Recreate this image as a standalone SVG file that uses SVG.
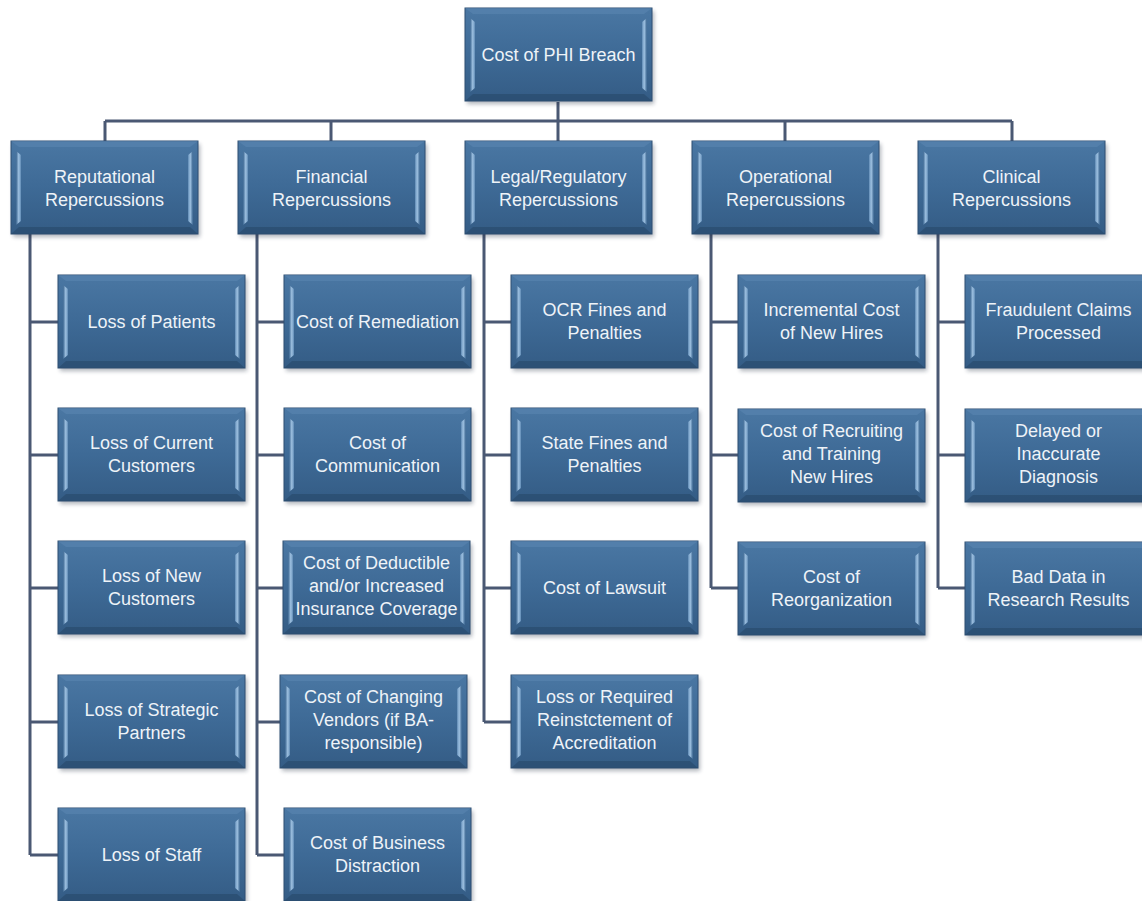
<svg xmlns="http://www.w3.org/2000/svg" xmlns:xlink="http://www.w3.org/1999/xlink" width="1142" height="901" viewBox="0 0 1142 901">
<defs>
<linearGradient id="gFill" x1="0" y1="0" x2="0" y2="1">
<stop offset="0" stop-color="#4a77a3"/>
<stop offset="0.5" stop-color="#3e6a96"/>
<stop offset="1" stop-color="#345c85"/>
</linearGradient>
<linearGradient id="gLeft" x1="0" y1="0" x2="1" y2="0">
<stop offset="0" stop-color="#3a6590"/>
<stop offset="0.55" stop-color="#9fc2e2"/>
<stop offset="1" stop-color="#5f8ab4"/>
</linearGradient>
<linearGradient id="gRight" x1="0" y1="0" x2="1" y2="0">
<stop offset="0" stop-color="#5f8ab4"/>
<stop offset="0.45" stop-color="#9fc2e2"/>
<stop offset="1" stop-color="#3a6590"/>
</linearGradient>
<filter id="sh" x="-10%" y="-10%" width="125%" height="130%">
<feGaussianBlur stdDeviation="2"/>
</filter>
<g id="box">
<rect x="2" y="3" width="187" height="93" fill="#1a2a3c" opacity="0.35" filter="url(#sh)"/>
<rect x="0" y="0" width="187" height="93" fill="url(#gFill)" stroke="#2e4f72" stroke-width="1"/>
<polygon points="0,0 187,0 179,6 8,6" fill="#5a86b1" opacity="0.6"/>
<polygon points="0,93 187,93 179,86 8,86" fill="#2a4b6e" opacity="0.7"/>
<polygon points="5,10 10,14 10,80 5,84" fill="url(#gLeft)"/>
<polygon points="182,10 177,14 177,80 182,84" fill="url(#gRight)"/>
</g>
</defs>
<style>
.ln{fill:none;stroke:#4a5873;stroke-width:3;}
text{font-family:"Liberation Sans",Arial,sans-serif;font-size:18px;fill:#eef3f8;text-anchor:middle;}
</style>
<rect width="1142" height="901" fill="#ffffff"/>
<g id="connectors">
<path class="ln" d="M558,102V121M105,121H1012M105,121V142M331,121V142M558,121V142M785,121V142M1012,121V142"/>
<path class="ln" d="M30,233V855M30,322H58M30,455H58M30,588H58M30,722H58M30,855H58"/>
<path class="ln" d="M257,233V855M257,322H284M257,455H284M257,588H284M257,722H284M257,855H284"/>
<path class="ln" d="M484,233V722M484,322H511M484,455H511M484,588H511M484,722H511"/>
<path class="ln" d="M711,233V588M711,322H738M711,455H738M711,588H738"/>
<path class="ln" d="M938,233V588M938,322H965M938,455H965M938,588H965"/>
</g>
<g id="n-root"><use xlink:href="#box" href="#box" x="465" y="8"/><text x="558.5" y="61">Cost of PHI Breach</text></g>
<g id="n-rep"><use xlink:href="#box" href="#box" x="11" y="141"/><text x="104.5" y="183">Reputational</text><text x="104.5" y="206">Repercussions</text></g>
<g id="n-fin"><use xlink:href="#box" href="#box" x="238" y="141"/><text x="331.5" y="183">Financial</text><text x="331.5" y="206">Repercussions</text></g>
<g id="n-leg"><use xlink:href="#box" href="#box" x="465" y="141"/><text x="558.5" y="183">Legal/Regulatory</text><text x="558.5" y="206">Repercussions</text></g>
<g id="n-op"><use xlink:href="#box" href="#box" x="692" y="141"/><text x="785.5" y="183">Operational</text><text x="785.5" y="206">Repercussions</text></g>
<g id="n-cli"><use xlink:href="#box" href="#box" x="918" y="141"/><text x="1011.5" y="183">Clinical</text><text x="1011.5" y="206">Repercussions</text></g>

<g id="n-rep1"><use xlink:href="#box" href="#box" x="58" y="275"/><text x="151.5" y="328">Loss of Patients</text></g>
<g id="n-rep2"><use xlink:href="#box" href="#box" x="58" y="408"/><text x="151.5" y="449">Loss of Current</text><text x="151.5" y="472">Customers</text></g>
<g id="n-rep3"><use xlink:href="#box" href="#box" x="58" y="541"/><text x="151.5" y="582">Loss of New</text><text x="151.5" y="605">Customers</text></g>
<g id="n-rep4"><use xlink:href="#box" href="#box" x="58" y="675"/><text x="151.5" y="716">Loss of Strategic</text><text x="151.5" y="739">Partners</text></g>
<g id="n-rep5"><use xlink:href="#box" href="#box" x="58" y="808"/><text x="151.5" y="861">Loss of Staff</text></g>

<g id="n-fin1"><use xlink:href="#box" href="#box" x="284" y="275"/><text x="377.5" y="328">Cost of Remediation</text></g>
<g id="n-fin2"><use xlink:href="#box" href="#box" x="284" y="408"/><text x="377.5" y="449">Cost of</text><text x="377.5" y="472">Communication</text></g>
<g id="n-fin3"><use xlink:href="#box" href="#box" x="283" y="541"/><text x="376.5" y="569">Cost of Deductible</text><text x="376.5" y="592">and/or Increased</text><text x="376.5" y="615">Insurance Coverage</text></g>
<g id="n-fin4"><use xlink:href="#box" href="#box" x="280" y="675"/><text x="373.5" y="703">Cost of Changing</text><text x="373.5" y="726">Vendors (if BA-</text><text x="373.5" y="749">responsible)</text></g>
<g id="n-fin5"><use xlink:href="#box" href="#box" x="284" y="808"/><text x="377.5" y="849">Cost of Business</text><text x="377.5" y="872">Distraction</text></g>

<g id="n-leg1"><use xlink:href="#box" href="#box" x="511" y="275"/><text x="604.5" y="316">OCR Fines and</text><text x="604.5" y="339">Penalties</text></g>
<g id="n-leg2"><use xlink:href="#box" href="#box" x="511" y="408"/><text x="604.5" y="449">State Fines and</text><text x="604.5" y="472">Penalties</text></g>
<g id="n-leg3"><use xlink:href="#box" href="#box" x="511" y="541"/><text x="604.5" y="594">Cost of Lawsuit</text></g>
<g id="n-leg4"><use xlink:href="#box" href="#box" x="511" y="675"/><text x="604.5" y="703">Loss or Required</text><text x="604.5" y="726">Reinstctement of</text><text x="604.5" y="749">Accreditation</text></g>

<g id="n-op1"><use xlink:href="#box" href="#box" x="738" y="275"/><text x="831.5" y="316">Incremental Cost</text><text x="831.5" y="339">of New Hires</text></g>
<g id="n-op2"><use xlink:href="#box" href="#box" x="738" y="409"/><text x="831.5" y="437">Cost of Recruiting</text><text x="831.5" y="460">and Training</text><text x="831.5" y="483">New Hires</text></g>
<g id="n-op3"><use xlink:href="#box" href="#box" x="738" y="542"/><text x="831.5" y="583">Cost of</text><text x="831.5" y="606">Reorganization</text></g>

<g id="n-cli1"><use xlink:href="#box" href="#box" x="965" y="275"/><text x="1058.5" y="316">Fraudulent Claims</text><text x="1058.5" y="339">Processed</text></g>
<g id="n-cli2"><use xlink:href="#box" href="#box" x="965" y="409"/><text x="1058.5" y="437">Delayed or</text><text x="1058.5" y="460">Inaccurate</text><text x="1058.5" y="483">Diagnosis</text></g>
<g id="n-cli3"><use xlink:href="#box" href="#box" x="965" y="542"/><text x="1058.5" y="583">Bad Data in</text><text x="1058.5" y="606">Research Results</text></g>
</svg>
